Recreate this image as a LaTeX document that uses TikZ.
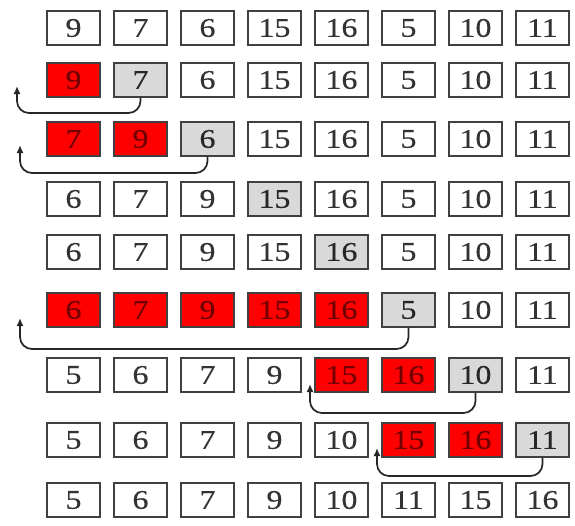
\documentclass[tikz,border=0pt]{standalone}
\usepackage{fontspec}
\setmainfont{Liberation Serif}
\newfontfamily\cellfont[FakeStretch=1.18,FakeBold=0.4]{Liberation Serif}
\usetikzlibrary{arrows.meta}

\begin{document}
\begin{tikzpicture}[x=1pt,y=-1pt,
  plain/.style={draw=black!75, line width=1.4pt, fill=white, text=black!80,
    minimum width=53pt, minimum height=34pt, inner sep=0pt,
    font=\cellfont\fontsize{27}{27}\selectfont},
  hot/.style={plain, fill=red, text=red!45!black},
  cur/.style={plain, fill=black!15, text=black!85},
  back/.style={line width=1.7pt, black!85, rounded corners=12pt, -{Latex[length=8pt,width=7pt]}}]
\useasboundingbox (0,0) rectangle (575,525);
% one row of the array per pass
\foreach \r/\y/\list in {
  1/28/{9/plain,7/plain,6/plain,15/plain,16/plain,5/plain,10/plain,11/plain},
  2/80/{9/hot,7/cur,6/plain,15/plain,16/plain,5/plain,10/plain,11/plain},
  3/139/{7/hot,9/hot,6/cur,15/plain,16/plain,5/plain,10/plain,11/plain},
  4/199/{6/plain,7/plain,9/plain,15/cur,16/plain,5/plain,10/plain,11/plain},
  5/252/{6/plain,7/plain,9/plain,15/plain,16/cur,5/plain,10/plain,11/plain},
  6/310/{6/hot,7/hot,9/hot,15/hot,16/hot,5/cur,10/plain,11/plain},
  7/375/{5/plain,6/plain,7/plain,9/plain,15/hot,16/hot,10/cur,11/plain},
  8/440/{5/plain,6/plain,7/plain,9/plain,10/plain,15/hot,16/hot,11/cur},
  9/500/{5/plain,6/plain,7/plain,9/plain,10/plain,11/plain,15/plain,16/plain}} {
  \foreach \v/\s [count=\c] in \list {
    \node[\s] (r\r-\c) at ({73.5+67*(\c-1)},\y) {\v};
  }
}
% insertion arrows
\coordinate (b2) at (17,113);  \coordinate (t2) at (17,86);
\coordinate (b3) at (20,173);  \coordinate (t3) at (20,145);
\coordinate (b6) at (20,349);  \coordinate (t6) at (20,318);
\coordinate (b7) at (310,413); \coordinate (t7) at (310,384);
\coordinate (b8) at (377,476); \coordinate (t8) at (377,448);
\draw[back] (r2-2.south) |- (b2) -- (t2);
\draw[back] (r3-3.south) |- (b3) -- (t3);
\draw[back] (r6-6.south) |- (b6) -- (t6);
\draw[back] (r7-7.south) |- (b7) -- (t7);
\draw[back] (r8-8.south) |- (b8) -- (t8);
\end{tikzpicture}
\end{document}
